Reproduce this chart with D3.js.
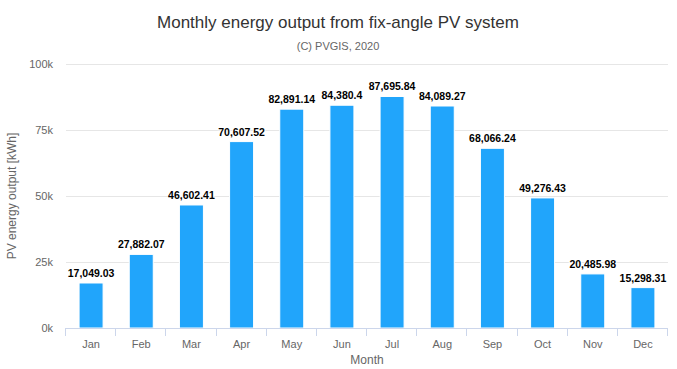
<!DOCTYPE html>
<html><head><meta charset="utf-8">
<script src="https://cdn.jsdelivr.net/npm/d3@7"></script>
<style>body{margin:0;background:#fff}svg{font-family:"Liberation Sans",Arial,sans-serif;display:block}</style>
</head><body><svg id="c" width="677" height="369"></svg>
<script>
const months = ["Jan","Feb","Mar","Apr","May","Jun","Jul","Aug","Sep","Oct","Nov","Dec"];
const output = [17049.03,27882.07,46602.41,70607.52,82891.14,84380.4,87695.84,84089.27,68066.24,49276.43,20485.98,15298.31];
const yTicks = [0,25000,50000,75000,100000];
const yTickLabels = ["0k","25k","50k","75k","100k"];
const labelText = ["17,049.03","27,882.07","46,602.41","70,607.52","82,891.14","84,380.4","87,695.84","84,089.27","68,066.24","49,276.43","20,485.98","15,298.31"];

const svg = d3.select("#c");
const m = {l:66, r:9, t:64, b:41};
const W = 677, H = 369;
const x = d3.scaleBand().domain(months).range([m.l, W-m.r]).paddingInner(0).paddingOuter(0);
const y = d3.scaleLinear().domain([0,100000]).range([H-m.b, m.t]);

svg.append("text").attr("x",338).attr("y",28).attr("text-anchor","middle")
  .attr("font-size",17).attr("fill","#333").text("Monthly energy output from fix-angle PV system");
svg.append("text").attr("x",338).attr("y",50).attr("text-anchor","middle")
  .attr("font-size",11).attr("fill","#666").text("(C) PVGIS, 2020");

// grid
const gy = svg.append("g");
gy.selectAll("line").data(yTicks.slice(1)).join("line")
  .attr("x1",m.l).attr("x2",W-m.r).attr("y1",d=>y(d)+0.5).attr("y2",d=>y(d)+0.5)
  .attr("stroke","#e6e6e6").attr("stroke-width",1);
gy.selectAll("text").data(yTicks).join("text")
  .attr("x",53).attr("y",d=>y(d)+4).attr("text-anchor","end")
  .attr("font-size",11).attr("fill","#666").text((d,i)=>yTickLabels[i]);

svg.append("text").attr("transform",`translate(16,${(m.t+H-m.b)/2}) rotate(-90)`)
  .attr("text-anchor","middle").attr("font-size",12).attr("fill","#666").text("PV energy output [kWh]");

// bars
const bw = 24;
svg.append("g").selectAll("rect").data(months).join("rect")
  .attr("x",(d)=>x(d)+x.bandwidth()/2-bw/2).attr("width",bw)
  .attr("y",(d,i)=>y(output[i])).attr("height",(d,i)=>y(0)-y(output[i]))
  .attr("fill","#21a5fb").attr("stroke","#fff").attr("stroke-width",1);

// labels
svg.append("g").selectAll("text").data(months).join("text")
  .attr("x",d=>x(d)+x.bandwidth()/2).attr("y",(d,i)=>y(output[i])-6)
  .attr("text-anchor","middle").attr("font-size",10.5).attr("font-weight","bold")
  .attr("fill","#000").attr("stroke","#fff").attr("stroke-width",2).attr("paint-order","stroke")
  .text((d,i)=>labelText[i]);

// x axis
const xa = svg.append("g").attr("transform",`translate(0,${y(0)})`)
  .call(d3.axisBottom(x).tickSize(0).tickPadding(12));
xa.select(".domain").attr("stroke","#ccd6eb").attr("d",`M${m.l},0.5H${W-m.r}`);
xa.selectAll("text").attr("font-size",11).attr("fill","#666").attr("font-family","Liberation Sans,Arial,sans-serif");
const bounds = months.map(d=>x(d)).concat([W-m.r]);
xa.selectAll(".bt").data(bounds).join("line").attr("class","bt")
  .attr("x1",d=>Math.round(d)-0.5).attr("x2",d=>Math.round(d)-0.5).attr("y1",0).attr("y2",8)
  .attr("stroke","#ccd6eb");

svg.append("text").attr("x",(m.l+W-m.r)/2).attr("y",364).attr("text-anchor","middle")
  .attr("font-size",12).attr("fill","#666").text("Month");
</script></body></html>
